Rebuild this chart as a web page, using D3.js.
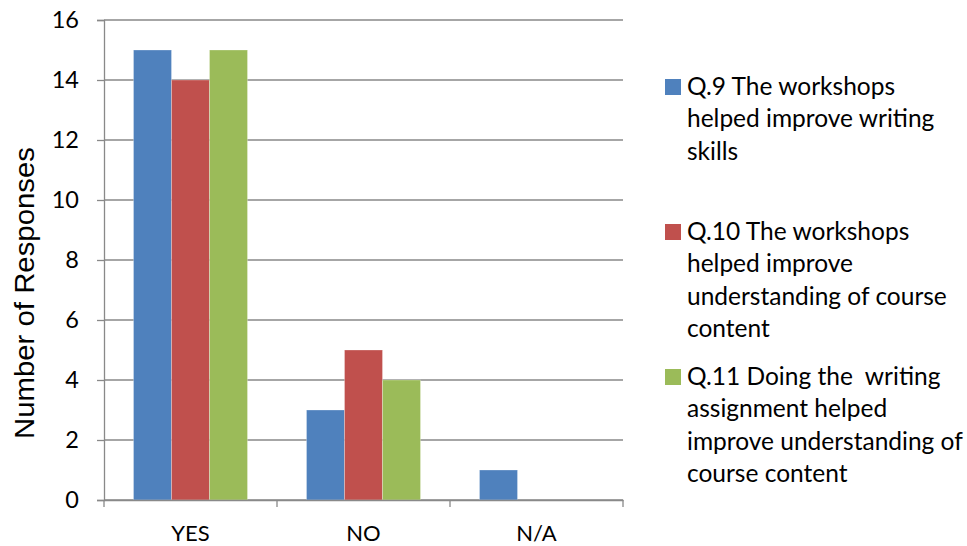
<!DOCTYPE html>
<html><head><meta charset="utf-8">
<script src="https://cdn.jsdelivr.net/npm/d3@7"></script>
<style>body{margin:0;background:#fff}svg{display:block}</style>
</head><body>
<svg id="c" width="967" height="546"></svg>
<script>
const categories = ["YES", "NO", "N/A"];
const seriesNames = ["Q9", "Q10", "Q11"];
const q9 = [15, 3, 1];
const q10 = [14, 5, 0];
const q11 = [15, 4, 0];
const yTicks = [0, 2, 4, 6, 8, 10, 12, 14, 16];
const legendLines = [
  ["Q.9 The workshops", "helped improve writing", "skills"],
  ["Q.10 The workshops", "helped improve", "understanding of course", "content"],
  ["Q.11 Doing the  writing", "assignment helped", "improve understanding of", "course content"]
];
const colors = ["#4F81BD", "#C0504D", "#9BBB59"];
const values = [q9, q10, q11];

(function () {
const svg = d3.select("#c");
const pl = 104, pr = 623, pt = 20, pb = 500;
const font = "Lato, 'Open Sans', sans-serif";

const x0 = d3.scaleBand().domain(categories).range([pl, pr]).padding(0);
const x1 = d3.scaleBand().domain(seriesNames).range([29.5, x0.bandwidth() - 29.5]).padding(0);
const y = d3.scaleLinear().domain([0, 16]).range([pb, pt]);

svg.append("g").selectAll("line").data(yTicks).join("line")
  .attr("x1", pl).attr("x2", pr)
  .attr("y1", d => y(d)).attr("y2", d => y(d))
  .attr("stroke", "#898989").attr("stroke-width", 1.3);

const ya = svg.append("g").attr("transform", `translate(${pl},0)`)
  .call(d3.axisLeft(y).tickValues(yTicks).tickSize(7).tickPadding(18));
ya.select(".domain").attr("stroke", "#898989").attr("stroke-width", 1.3);
ya.selectAll(".tick line").attr("stroke", "#898989").attr("stroke-width", 1.3);
ya.selectAll(".tick text").attr("font-family", font).attr("font-size", 23.5).attr("fill", "#000");

const groups = svg.append("g").selectAll("g").data(categories).join("g")
  .attr("transform", d => `translate(${x0(d)},0)`);
groups.selectAll("rect").data((c, ci) => seriesNames.map((s, si) => ({s, si, v: values[si][ci]})))
  .join("rect")
  .attr("x", d => x1(d.s)).attr("width", x1.bandwidth())
  .attr("y", d => y(d.v)).attr("height", d => y(0) - y(d.v))
  .attr("fill", d => colors[d.si])
  .attr("stroke", "rgba(255,255,255,0.35)").attr("stroke-width", 0.8);

const xa = svg.append("g").attr("transform", `translate(0,${pb})`)
  .call(d3.axisBottom(x0).tickSize(0));
xa.select(".domain").attr("stroke", "#898989").attr("stroke-width", 1.3);
xa.selectAll(".tick text").attr("y", 41).attr("dy", 0)
  .attr("font-family", font).attr("font-size", 22).attr("fill", "#000");
const catEdges = categories.map(c => x0(c)).concat([pr]);
svg.append("g").selectAll("line").data(catEdges).join("line")
  .attr("x1", d => d).attr("x2", d => d)
  .attr("y1", pb).attr("y2", pb + 7)
  .attr("stroke", "#898989").attr("stroke-width", 1.3);

svg.append("text").attr("transform", "translate(34,293) rotate(-90)")
  .attr("text-anchor", "middle").attr("font-family", "'Liberation Sans', Arial, sans-serif")
  .attr("font-size", 27).attr("textLength", 292).attr("lengthAdjust", "spacingAndGlyphs")
  .attr("fill", "#000").text("Number of Responses");

const entryBase = [95, 240, 385];
const lg = svg.append("g");
legendLines.forEach((lines, i) => {
  lg.append("rect").attr("x", 665).attr("y", entryBase[i] - 16).attr("width", 16).attr("height", 16).attr("fill", colors[i]);
  lines.forEach((t, j) => {
    lg.append("text").attr("x", 687).attr("y", entryBase[i] + j * 32.3)
      .attr("font-family", font).attr("font-size", 24.5).attr("fill", "#000")
      .style("white-space", "pre").text(t);
  });
});
})();
</script>
</body></html>
